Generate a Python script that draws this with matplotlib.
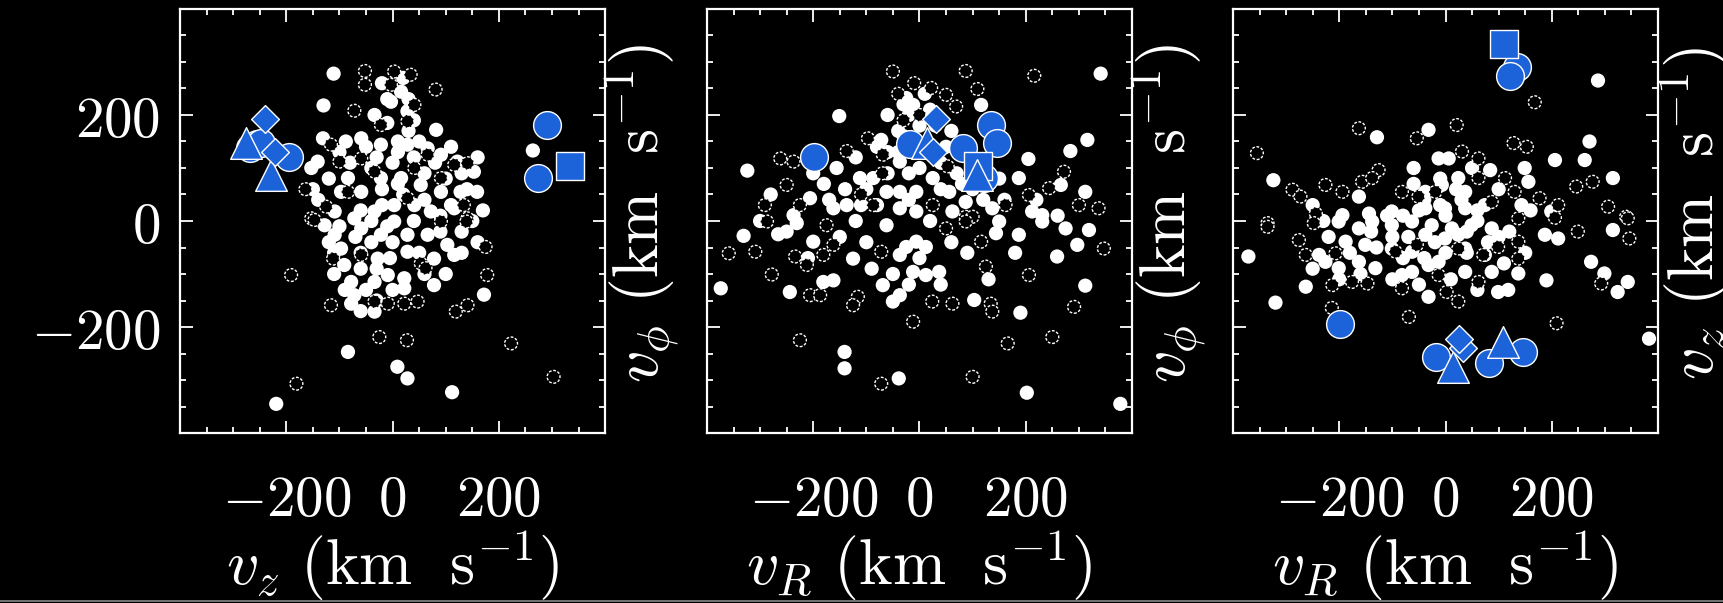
import numpy as np
import matplotlib.pyplot as plt
from matplotlib.lines import Line2D
from matplotlib.ticker import MultipleLocator

plt.rcParams['mathtext.fontset'] = 'cm'
plt.rcParams['font.family'] = 'serif'
plt.rcParams['font.serif'] = ['DejaVu Serif']

BLUE = '#1c62d8'

# ---- tick values and labels -------------------------------------------------
tick_values = [-200, 0, 200]
tick_labels = ['$-200$', '$0$', '$200$']

# ---- highlighted stars: v_R, v_phi, v_z (km/s) and symbol ------------------
hl_marker = ['o', 's', 'o', 'o', 'D', 'D', '^', '^', 'o', 'o', 'o']
hl_vR     = [-198, 110, 134, 121, 32, 25, 14, 109, -18, 82, 146]
hl_vphi   = [120, 104, 182, 82, 192, 130, 148, 86, 145, 137, 147]
hl_vz     = [-195, 333, 290, 273, -240, -222, -275, -229, -256, -268, -248]

# ---- panel 1: v_z vs v_phi --------------------------------------------------
p1_filled = [
    (-111, 278), (-130, 218), (-131, 156), (-88, 150), (-153, 100), (-141, 112),
    (82, 172), (264, 133),
    (16, 244), (-3, 225), (-34, 200), (28, 207), (-59, 156), (-22, 144), (28, 144),
    (66, 137), (91, 125), (122, 112), (153, 93), (159, 55), (-84, 81), (-97, 55),
    (-59, 55), (-22, 81), (16, 81), (53, 68), (91, 55), (128, 55), (3, 30), (41, 30),
    (-34, 18), (-109, 18), (-72, 5), (72, 18), (116, 24),
    (-128, -8), (-109, -26), (-97, -52), (-91, -83), (-78, -115), (-72, -140),
    (-78, -156), (-34, -115), (-9, -102), (22, -108), (22, -127), (-34, -171),
    (-28, -71), (-22, -26), (-59, -14), (28, -26), (66, -26), (103, -45), (116, -64),
    (78, -71), (28, -58), (3, -1), (78, -121), (172, -139), (-84, -247), (9, -275),
    (28, -297), (112, -323), (-219, -345),
    (-40, 100), (0, 110), (40, 120), (-20, 60), (20, 50), (60, 90), (100, 80),
    (140, 60), (-60, 20), (-10, -10), (40, 0), (90, 10), (130, -20), (-40, -40),
    (50, -60), (100, -100), (-110, -60), (-60, -90), (-5, -70), (30, 170),
    (-10, 185), (40, 190), (10, 150),
    (-120, 80), (-100, 130), (-80, 110), (-50, 140), (-30, 120), (10, 130),
    (50, 150), (80, 110), (110, 140), (130, 90), (160, 120), (-10, 230), (20, 270),
    (30, 230), (-20, 260), (-100, -10), (-70, -30), (-40, 0), (-20, 30), (10, 70),
    (60, 40), (90, -20), (110, 30), (150, 0), (160, -40), (-60, -60), (-30, -90),
    (0, -40), (60, -100), (-110, -100), (-90, -130), (-50, -130), (-60, -170),
    (-30, -150), (-140, 40), (-150, 60), (-120, -40), (130, -60), (170, 20),
    (0, -130),
]
p1_open = [
    (-52, 283), (-52, 257), (3, 282), (34, 276), (81, 248), (-72, 208), (28, 188),
    (-116, 144), (-100, 112), (-164, 60), (-125, 27), (-153, 5), (141, 109),
    (116, 106), (66, 125), (-22, 181), (41, 219), (-3, 257), (-59, 118), (-34, 93),
    (41, 100), (91, 81), (134, 30), (141, 5), (-84, 55), (28, 43),
    (-147, 2), (139, -1), (175, -49), (-112, -71), (-191, -102), (178, -102),
    (53, -80), (62, -89), (-116, -159), (-34, -152), (-9, -156), (22, -156),
    (47, -152), (119, -171), (141, -159), (-25, -219), (27, -225), (223, -231),
    (-181, -307), (303, -294), (-59, -64), (91, -1),
]

# ---- panel 2: v_R vs v_phi --------------------------------------------------
p2_filled = [
    (-151, 198), (-324, 95), (341, 278), (116, 219), (316, 153), (284, 132),
    (205, 117), (-72, 153), (-25, 232), (-12, 219), (-37, 112), (-156, 100),
    (-112, 81), (-87, 81), (-62, 55), (-37, 55), (-6, 55), (25, 81), (56, 55),
    (87, 36), (187, 81), (312, 55), (266, 68), (-206, 43), (-162, 24), (-137, 30),
    (-37, 24), (-6, 18), (137, 24), (212, 18), (231, 11), (62, 18), (-237, 11),
    (-331, -28), (-266, -25), (-231, -4), (-200, -39), (-125, -71), (-62, -8),
    (-25, -49), (-37, -64), (-6, -39), (12, -49), (-12, -96), (12, -102), (37, -96),
    (-69, -121), (-37, -140), (-50, -152), (-181, -115), (-162, -112), (-244, -134),
    (-374, -127), (144, -23), (187, -26), (150, -1), (231, -1), (275, -14),
    (259, -67), (297, -45), (319, -17), (312, -122), (103, -149), (190, -173),
    (-141, -247), (-141, -278), (-39, -297), (202, -324), (378, -345),
    (-20, 200), (0, 180), (-40, 170), (20, 210), (-60, 130), (-100, 60), (-80, 30),
    (-20, 90), (40, 110), (70, 90), (100, 60), (160, 40), (-180, 70), (-120, 0),
    (20, 0), (-30, 160),
    (-60, 200), (-30, 220), (10, 240), (30, 180), (-80, 140), (-40, 130),
    (-10, 140), (0, 100), (50, 140), (60, 170), (-120, 120), (-200, 90),
    (-170, 40), (-140, 60), (-110, 30), (-60, 90), (-20, 40), (40, 60), (80, 70),
    (120, 40), (150, 80), (-250, -20), (-210, -70), (-150, -30), (-100, -40),
    (-50, -100), (0, -70), (40, -120), (-20, -120), (90, -60), (130, -110),
    (180, -60), (220, 40), (260, 10), (-300, 0), (-280, 50), (60, -40), (-90, -90),
]
p2_open = [
    (-50, 282), (87, 283), (216, 274), (22, 251), (109, 249), (50, 238), (69, 216),
    (-97, 156), (-137, 132), (-262, 118), (-237, 112), (-250, 68), (-69, 125),
    (53, 103), (272, 93), (244, 62), (300, 30), (337, 24), (206, 49), (-291, 30),
    (-225, 30), (-87, 30), (25, 30), (87, 8), (100, 8), (162, 30),
    (-359, -61), (-309, -58), (-278, -101), (-234, -67), (-212, -83), (-181, -64),
    (-162, -45), (-206, -140), (-187, -140), (-116, -143), (-125, -159), (-72, -58),
    (-12, -190), (24, -152), (62, -156), (116, -39), (125, -86), (134, -156),
    (137, -171), (206, -102), (291, -162), (347, -52), (-225, -225), (166, -231),
    (250, -219), (-72, -307), (100, -294), (50, -14), (87, -1), (-175, -8),
    (-287, -1), (-40, 240), (-10, 260), (0, 200), (-30, 190), (-70, 90), (-110, 50),
]

# ---- panel 3: v_R vs v_z ----------------------------------------------------
p3_filled = [
    (287, 265), (-129, 158), (-32, 172), (-324, 77), (206, 115), (271, 150),
    (262, 115), (315, 81), (149, 100), (156, 74), (84, 96), (-13, 118), (6, 118),
    (-163, 46), (-194, 11), (-144, 14), (-38, 55), (-7, 68), (24, 81), (37, 55),
    (-38, 24), (-1, 24), (37, 24), (74, 30), (143, 30), (199, 18), (-101, 18),
    (-201, -1), (-163, -14), (-138, -1), (-101, -8), (-63, -1), (-26, -8), (12, -14),
    (49, -8), (87, -14), (-38, -26), (-1, -33), (24, -26), (-188, -39), (-151, -45),
    (-226, -77), (-201, -89), (-238, -64), (-163, -77), (-132, -89), (-82, -102),
    (-63, -96), (-32, -83), (-13, -77), (37, -96), (87, -96), (99, -134),
    (118, -130), (-32, -143), (-263, -124), (-320, -154), (-371, -67), (187, -26),
    (212, -33), (190, -112), (274, -77), (299, -99), (324, -134), (343, -115),
    (315, -17), (137, -99), (383, -222), (37, -52), (74, -64), (-101, -52),
    (-63, -58),
    (-50, 20), (0, 10), (40, -20), (-100, -30), (-20, -40), (60, 20), (100, -30),
    (-140, -20), (20, 60), (-60, 70), (-180, -60), (-80, -70), (150, -60),
    (-250, -90),
    (-80, 10), (-40, 40), (-10, 30), (30, 40), (60, 0), (80, -40), (40, -60),
    (0, -60), (-40, -70), (-70, -30), (-110, 10), (-130, -50), (-160, -100),
    (-200, -110), (-100, -110), (-50, -120), (10, -110), (60, -130), (-10, 80),
    (50, 100), (100, 60), (120, -20), (160, 20), (-220, -30), (-250, 30),
    (-60, 100), (110, -80), (-230, 0),
]
p3_open = [
    (-355, 128), (-163, 175), (-54, 156), (21, 181), (168, 224), (128, 147),
    (153, 140), (112, 81), (62, 118), (31, 131), (-126, 96), (-226, 68), (-288, 59),
    (-273, 46), (-194, 55), (-157, 74), (-138, 81), (-82, 55), (-51, 46), (-19, 55),
    (62, 81), (87, 36), (130, 55), (177, 43), (212, 30), (246, 65), (277, 74),
    (306, 27), (340, 8), (-335, -4), (-244, 14),
    (-335, -11), (-248, -4), (-276, -36), (-263, -64), (-207, -61), (-176, -115),
    (-147, -118), (-213, -121), (-94, -58), (-54, -45), (-82, -127), (-13, -102),
    (24, -152), (2, -134), (62, -115), (71, -64), (99, -49), (137, -39),
    (137, -71), (249, -20), (346, -33), (343, 5), (293, -118), (137, 5), (206, 6),
    (-214, -164), (-69, -181), (209, -193), (24, -52),
]

unit = r'\ (\mathrm{km\ \ s}^{-1})$'
panels = [
    (p1_filled, p1_open, hl_vz, hl_vphi, r'$v_z' + unit, r'$v_\phi' + unit),
    (p2_filled, p2_open, hl_vR, hl_vphi, r'$v_R' + unit, r'$v_\phi' + unit),
    (p3_filled, p3_open, hl_vR, hl_vz, r'$v_R' + unit, r'$v_z' + unit),
]

# circles go underneath, the other symbols are stacked on top
marker_size = {'o': 400, 's': 430, '^': 520, 'D': 200}
marker_layer = {'o': 4, 's': 5, '^': 6, 'D': 7}

fig = plt.figure(figsize=(17.23, 6.03), dpi=100, facecolor='black')
lefts = [0.1045, 0.4103, 0.7156]

for i, (filled, opened, hx, hy, xlab, ylab) in enumerate(panels):
    ax = fig.add_axes([lefts[i], 0.2819, 0.2467, 0.7032])
    ax.set_facecolor('black')

    fx, fy = np.array(filled).T
    ox, oy = np.array(opened).T
    ax.scatter(fx, fy, s=105, c='white', edgecolors='none', zorder=2)
    ax.scatter(ox, oy, s=85, facecolors='black', edgecolors='white',
               linewidths=1.0, linestyles=(0, (2.0, 1.2)), zorder=3)
    for m, x, y in zip(hl_marker, hx, hy):
        ax.scatter([x], [y], s=marker_size[m], marker=m, c=BLUE,
                   edgecolors='white', linewidths=1.0, zorder=marker_layer[m])

    ax.set_xlim(-400, 400)
    ax.set_ylim(-400, 400)
    ax.set_xticks(tick_values, labels=tick_labels)
    ax.set_yticks(tick_values, labels=tick_labels if i == 0 else [])
    ax.xaxis.set_minor_locator(MultipleLocator(50))
    ax.yaxis.set_minor_locator(MultipleLocator(50))
    ax.tick_params(which='both', direction='in', top=True, right=True,
                   colors='white', width=1.3)
    ax.tick_params(which='major', length=9, labelsize=41)
    ax.tick_params(axis='x', which='major', pad=28)
    ax.tick_params(axis='y', which='major', pad=14)
    ax.tick_params(which='minor', length=4.5)
    for sp in ax.spines.values():
        sp.set_color('white')
        sp.set_linewidth(1.6)

    ax.set_xlabel(xlab, color='white', fontsize=46, va='center')
    ax.xaxis.set_label_coords(0.5, -0.314)
    ax.yaxis.set_label_position('right')
    ax.set_ylabel(ylab, color='white', fontsize=46, rotation=90,
                  va='center', ha='center')
    ax.yaxis.set_label_coords(1.087, 0.519)

# thin grey rule along the bottom edge of the frame
fig.add_artist(Line2D([0, 1], [0.003, 0.003], transform=fig.transFigure,
                      color='#8a8a8a', lw=1.2))

fig.savefig('out.png', dpi=100, facecolor=fig.get_facecolor())
